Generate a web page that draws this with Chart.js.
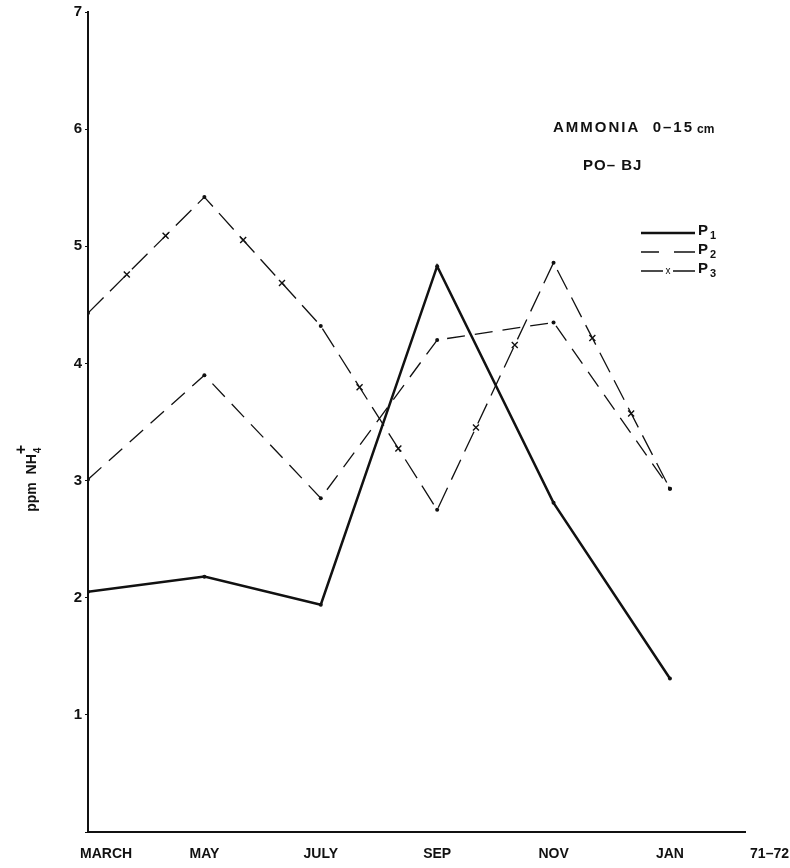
<!DOCTYPE html>
<html>
<head>
<meta charset="utf-8">
<script src="https://cdn.jsdelivr.net/npm/chart.js@4.4.0/dist/chart.umd.min.js"></script>
<style>
  html, body { margin: 0; padding: 0; background: #fff; }
  #wrap { width: 790px; height: 868px; position: relative; }
</style>
</head>
<body>
<div id="wrap"><canvas id="chart"></canvas></div>
<script>
    var months = ["MARCH", "MAY", "JULY", "SEP", "NOV", "JAN"];
    var yearLabel = "71\u201372";
    var p1 = [2.05, 2.18, 1.94, 4.83, 2.81, 1.31];
    var p2 = [3.01, 3.90, 2.85, 4.20, 4.35, 2.93];
    var p3 = [4.43, 5.42, 4.32, 2.75, 4.86, 2.93];
    var yTicks = [1, 2, 3, 4, 5, 6, 7];
    var titleLines = ["AMMONIA  0\u201315", "cm", "PO\u2013 BJ"];

    function toPoints(arr) {
      return arr.map(function (v, i) { return { x: i, y: v }; });
    }

    var font = '"Liberation Sans", "DejaVu Sans", sans-serif';

    // draws month labels, title, legend, axis title and the x marks of P3
    var extras = {
      id: 'extras',
      afterDatasetsDraw: function (chart) {
        var ctx = chart.ctx;
        var xs = chart.scales.x;
        ctx.save();
        ctx.fillStyle = '#111';
        ctx.font = 'bold 14px ' + font;
        ctx.textBaseline = 'middle';
        months.forEach(function (m, i) {
          var px = xs.getPixelForValue(i);
          if (i === 0) {
            ctx.textAlign = 'left';
            ctx.fillText(m, px - 8, 854);
          } else {
            ctx.textAlign = 'center';
            ctx.fillText(m, px, 854);
          }
        });
        ctx.textAlign = 'right';
        ctx.fillText(yearLabel, 789, 854);

        // title
        ctx.textAlign = 'left';
        ctx.letterSpacing = '2px';
        ctx.font = 'bold 15px ' + font;
        ctx.fillText(titleLines[0], 553, 128);
        var tw = ctx.measureText(titleLines[0]).width;
        ctx.letterSpacing = '0px';
        ctx.font = 'bold 12px ' + font;
        ctx.fillText(titleLines[1], 553 + tw + 3, 130);
        ctx.font = 'bold 15px ' + font;
        ctx.letterSpacing = '1px';
        ctx.fillText(titleLines[2], 583, 166);
        ctx.letterSpacing = '0px';

        // legend
        var lx1 = 641, lx2 = 695;
        var rows = [233, 252, 271];
        ctx.strokeStyle = '#111';
        ctx.lineWidth = 2.5;
        ctx.beginPath(); ctx.moveTo(lx1, rows[0]); ctx.lineTo(lx2, rows[0]); ctx.stroke();
        ctx.lineWidth = 1.3;
        ctx.beginPath(); ctx.moveTo(lx1, rows[1]); ctx.lineTo(659, rows[1]); ctx.moveTo(674, rows[1]); ctx.lineTo(lx2, rows[1]); ctx.stroke();
        ctx.beginPath(); ctx.moveTo(lx1, rows[2]); ctx.lineTo(663, rows[2]); ctx.moveTo(673, rows[2]); ctx.lineTo(lx2, rows[2]); ctx.stroke();
        ctx.font = '10px ' + font;
        ctx.textAlign = 'center';
        ctx.fillText('x', 668, rows[2]);
        ['1', '2', '3'].forEach(function (s, i) {
          ctx.textAlign = 'left';
          ctx.font = 'bold 15px ' + font;
          ctx.fillText('P', 698, rows[i] - 2);
          ctx.font = 'bold 11px ' + font;
          ctx.fillText(s, 710, rows[i] + 3);
        });

        // y axis title
        ctx.save();
        ctx.translate(32, 476);
        ctx.rotate(-Math.PI / 2);
        ctx.textAlign = 'left';
        ctx.font = 'bold 14px ' + font;
        var t1 = 'ppm  NH';
        var w = ctx.measureText(t1).width;
        var start = -(w + 14) / 2;
        ctx.fillText(t1, start, 0);
        ctx.font = 'bold 10px ' + font;
        ctx.fillText('4', start + w + 1, 6);
        ctx.font = 'bold 16px ' + font;
        ctx.fillText('+', start + w, -10);
        ctx.restore();

        // crosses on P3
        var meta = chart.getDatasetMeta(2);
        ctx.lineWidth = 1.4;
        ctx.setLineDash([]);
        for (var k = 0; k < meta.data.length - 1; k++) {
          var a = meta.data[k], b = meta.data[k + 1];
          [1 / 3, 2 / 3].forEach(function (f) {
            var cx = a.x + (b.x - a.x) * f;
            var cy = a.y + (b.y - a.y) * f;
            ctx.beginPath();
            ctx.moveTo(cx - 3, cy - 3); ctx.lineTo(cx + 3, cy + 3);
            ctx.moveTo(cx + 3, cy - 3); ctx.lineTo(cx - 3, cy + 3);
            ctx.stroke();
          });
        }
        ctx.restore();
      }
    };

    var ctx = document.getElementById('chart').getContext('2d');
    var chart = new Chart(ctx, {
      type: 'line',
      data: {
        datasets: [{
          label: 'P1',
          data: toPoints(p1),
          borderColor: '#111',
          borderWidth: 2.5,
          pointRadius: 2,
          pointBackgroundColor: '#111',
          pointBorderWidth: 0,
          tension: 0
        }, {
          label: 'P2',
          data: toPoints(p2),
          borderColor: '#111',
          borderWidth: 1.3,
          borderDash: [18, 10],
          pointRadius: 2,
          pointBackgroundColor: '#111',
          pointBorderWidth: 0,
          tension: 0
        }, {
          label: 'P3',
          data: toPoints(p3),
          borderColor: '#111',
          borderWidth: 1.3,
          borderDash: [22, 9],
          pointRadius: 2,
          pointBackgroundColor: '#111',
          pointBorderWidth: 0,
          tension: 0
        }]
      },
      options: {
        responsive: true,
        maintainAspectRatio: false,
        animation: false,
        layout: { padding: { top: 12, right: 45, left: 0, bottom: 0 } },
        plugins: {
          legend: { display: false },
          tooltip: { enabled: false }
        },
        scales: {
          x: {
            type: 'linear',
            min: 0,
            max: 5.645,
            grid: { display: false },
            border: { display: true, color: '#111', width: 2 },
            ticks: { display: false },
            afterFit: function (scale) { scale.height = 36; }
          },
          y: {
            min: 0,
            max: 7,
            grid: { drawOnChartArea: false, drawTicks: true, tickLength: 3, color: '#111' },
            border: { display: true, color: '#111', width: 2 },
            ticks: {
              stepSize: 1,
              padding: 3,
              color: '#111',
              font: { family: font, size: 15, weight: 'bold' },
              callback: function (v) { return yTicks.indexOf(v) >= 0 ? String(v) : ''; }
            },
            afterFit: function (scale) { scale.width = 88; }
          }
        }
      },
      plugins: [extras]
    });
</script>
</body>
</html>
